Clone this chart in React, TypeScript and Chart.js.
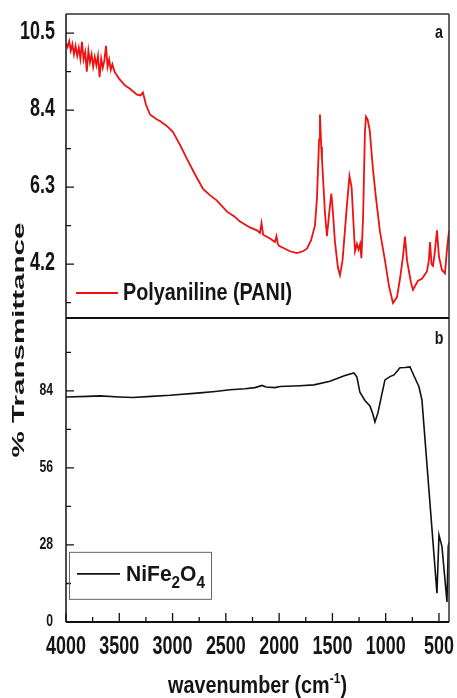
import React, { useEffect, useRef } from "react";
import { Chart, registerables } from "chart.js";

Chart.register(...registerables);

// ---------- DATA ----------
const paniWavenumber = [
  4000, 3985, 3970, 3955, 3940, 3925, 3910, 3895, 3880, 3865, 3850, 3835, 3820, 3805, 3790, 3775,
  3760, 3745, 3730, 3715, 3700, 3685, 3670, 3655, 3640, 3625, 3610, 3595, 3580, 3565, 3545, 3500,
  3450, 3400, 3334, 3300, 3278, 3250, 3212, 3150, 3118, 3052, 2996, 2930, 2865, 2790, 2714, 2650,
  2583, 2489, 2420, 2367, 2274, 2208, 2180, 2165, 2150, 2086, 2039, 2025, 2012, 2001, 1945, 1898,
  1833, 1776, 1739, 1700, 1664, 1645, 1625, 1617, 1605, 1598, 1570, 1551, 1530, 1510, 1495, 1476,
  1448, 1429, 1405, 1364, 1340, 1320, 1300, 1288, 1270, 1255, 1240, 1228, 1212, 1195, 1185, 1170,
  1150, 1120, 1091, 1054, 1007, 969, 932, 894, 866, 838, 819, 800, 763, 744, 697, 660,
  613, 595, 584, 570, 556, 540, 519, 500, 472, 444, 425, 406,
];
const paniTransmittance = [
  10.22, 10.12, 10.28, 10.02, 10.2, 9.92, 10.15, 9.88, 10.1, 9.8, 10.26, 9.78, 9.98, 9.45, 10.02, 9.7,
  9.92, 9.58, 9.85, 9.62, 9.88, 9.3, 9.8, 9.55, 9.75, 10.15, 9.58, 9.78, 9.5, 9.65, 9.45, 9.25,
  9.08, 8.98, 8.82, 8.8, 8.88, 8.55, 8.28, 8.15, 8.1, 7.96, 7.8, 7.45, 7.07, 6.65, 6.25, 6.08,
  5.93, 5.63, 5.5, 5.36, 5.2, 5.12, 5.05, 5.32, 5.0, 4.9, 4.8, 4.96, 4.75, 4.7, 4.62, 4.55,
  4.5, 4.55, 4.62, 4.85, 5.25, 6.0, 7.6, 8.28, 7.4, 7.07, 5.6, 4.96, 5.6, 6.12, 5.6, 4.8,
  4.1, 3.9, 4.3, 5.8, 6.6, 6.3, 5.2, 4.55, 4.75, 4.6, 4.75, 4.36, 5.5, 7.8, 8.22, 8.15,
  7.85, 6.8, 6.0, 5.09, 4.3, 3.6, 3.14, 3.3, 3.8, 4.4, 4.95, 4.3, 3.7, 3.5, 3.75, 3.8,
  4.0, 4.3, 4.8, 4.2, 4.15, 4.5, 5.12, 4.4, 4.04, 3.95, 4.6, 5.1,
];

const ferriteWavenumber = [
  4000, 3800, 3681, 3500, 3371, 3200, 3024, 2743, 2600, 2461, 2320, 2227, 2161, 2123, 2039, 1992,
  1804, 1673, 1523, 1382, 1298, 1270, 1242, 1195, 1148, 1120, 1101, 1073, 1035, 1007, 960, 922,
  866, 819, 772, 735, 688, 660, 519, 500, 472, 425, 413, 406,
];
const ferriteTransmittance = [
  81.8, 82.0, 82.2, 81.8, 81.6, 82.0, 82.4, 83.3, 83.8, 84.4, 84.8, 85.2, 86.0, 85.4, 85.2, 85.6,
  85.9, 86.2, 87.5, 89.6, 90.5, 89.0, 83.5, 80.5, 78.5, 75.5, 72.7, 76, 83, 88, 89.2, 89.8,
  92.4, 92.5, 92.7, 89.5, 85.5, 80.7, 10.5, 31.6, 27.4, 7.3, 27.4, 29,
];

const xMajorTicks = [4000, 3500, 3000, 2500, 2000, 1500, 1000, 500];
const xMinorTicks = [3750, 3250, 2750, 2250, 1750, 1250, 750];
const paniMajorTicks = [4.2, 6.3, 8.4, 10.5];
const paniMinorTicks = [3.15, 5.25, 7.35, 9.45];
const ferriteMajorTicks = [0, 28, 56, 84];
const ferriteMinorTicks = [14, 42, 70, 98];

const paniLabel = "Polyaniline (PANI)";
const yTitle = "% Transmittance";

// ---------- DRAW HELPERS ----------
const FAMILY = '"Liberation Sans", Arial, Helvetica, sans-serif';

function drawText(
  ctx: CanvasRenderingContext2D,
  text: string,
  x: number,
  y: number,
  size: number,
  sx: number,
  align: "left" | "center" | "right",
  weight = "bold"
) {
  ctx.save();
  ctx.font = `${weight} ${size}px ${FAMILY}`;
  ctx.textBaseline = "middle";
  ctx.textAlign = "left";
  const w = ctx.measureText(text).width * sx;
  const x0 = align === "left" ? x : align === "center" ? x - w / 2 : x - w;
  ctx.translate(x0, y);
  ctx.scale(sx, 1);
  ctx.fillText(text, 0, 0);
  ctx.restore();
  return w;
}

function fitText(
  ctx: CanvasRenderingContext2D,
  text: string,
  x: number,
  y: number,
  size: number,
  targetW: number,
  weight = "bold"
) {
  ctx.save();
  ctx.font = `${weight} ${size}px ${FAMILY}`;
  const w = ctx.measureText(text).width;
  ctx.restore();
  drawText(ctx, text, x, y, size, targetW / w, "left", weight);
}

const framePlugin = {
  id: "framePlugin",
  afterDraw(chart: any) {
    const ctx: CanvasRenderingContext2D = chart.ctx;
    const { left, right, top, bottom } = chart.chartArea;
    const xs = chart.scales.x;
    const ya = chart.scales.yPani;
    const yb = chart.scales.yFerrite;
    const mid = Math.round(ya.bottom);
    ctx.save();
    ctx.fillStyle = "#111";

    // frame
    ctx.lineWidth = 1.5;
    ctx.strokeStyle = "#333";
    ctx.beginPath();
    ctx.moveTo(left, top);
    ctx.lineTo(right, top);
    ctx.moveTo(right, top);
    ctx.lineTo(right, bottom);
    ctx.stroke();
    ctx.strokeStyle = "#111";
    ctx.beginPath();
    ctx.moveTo(left, top);
    ctx.lineTo(left, bottom);
    ctx.stroke();
    ctx.lineWidth = 2;
    ctx.beginPath();
    ctx.moveTo(left, mid);
    ctx.lineTo(right, mid);
    ctx.moveTo(left, bottom);
    ctx.lineTo(right, bottom);
    ctx.stroke();

    // x ticks (inward)
    ctx.lineWidth = 1.3;
    ctx.beginPath();
    xMajorTicks.forEach((v) => {
      const p = xs.getPixelForValue(v);
      ctx.moveTo(p, bottom);
      ctx.lineTo(p, bottom - 9);
    });
    xMinorTicks.forEach((v) => {
      const p = xs.getPixelForValue(v);
      ctx.moveTo(p, bottom);
      ctx.lineTo(p, bottom - 5);
    });
    // y ticks
    paniMajorTicks.forEach((v) => {
      const p = ya.getPixelForValue(v);
      ctx.moveTo(left, p);
      ctx.lineTo(left + 8, p);
    });
    paniMinorTicks.forEach((v) => {
      const p = ya.getPixelForValue(v);
      ctx.moveTo(left, p);
      ctx.lineTo(left + 5, p);
    });
    ferriteMajorTicks.forEach((v) => {
      const p = yb.getPixelForValue(v);
      ctx.moveTo(left, p);
      ctx.lineTo(left + 8, p);
    });
    ferriteMinorTicks.forEach((v) => {
      const p = yb.getPixelForValue(v);
      ctx.moveTo(left, p);
      ctx.lineTo(left + 5, p);
    });
    ctx.stroke();

    // tick labels
    ctx.fillStyle = "#151515";
    xMajorTicks.forEach((v) => {
      drawText(ctx, String(v), xs.getPixelForValue(v), bottom + 25, 26, 0.69, "center");
    });
    paniMajorTicks.forEach((v) => {
      drawText(ctx, v.toFixed(1), left - 11, ya.getPixelForValue(v) - 1, 26, 0.69, "right");
    });
    ferriteMajorTicks.forEach((v) => {
      drawText(ctx, String(v), left - 13, yb.getPixelForValue(v) - 1, 17, 0.72, "right");
    });

    // panel letters
    drawText(ctx, "a", right - 10, top + 19, 19, 0.75, "center");
    drawText(ctx, "b", right - 10, mid + 21, 19, 0.75, "center");

    // y title (rotated)
    ctx.save();
    ctx.font = `bold 26px ${FAMILY}`;
    const tw = ctx.measureText(yTitle).width;
    ctx.translate(19, (ya.top + yb.bottom) / 2 + 22);
    ctx.rotate(-Math.PI / 2);
    ctx.scale(235 / tw, 0.66);
    ctx.textAlign = "center";
    ctx.textBaseline = "middle";
    ctx.fillText(yTitle, 0, 0);
    ctx.restore();

    // x title with superscript
    {
      const size = 23;
      const supSize = 14;
      ctx.save();
      ctx.font = `bold ${size}px ${FAMILY}`;
      const w1 = ctx.measureText("wavenumber (cm").width;
      const w3 = ctx.measureText(")").width;
      ctx.font = `bold ${supSize}px ${FAMILY}`;
      const w2 = ctx.measureText("-1").width;
      ctx.restore();
      const target = 179;
      const sx = target / (w1 + w2 + w3);
      const cx = (left + right) / 2;
      let x0 = cx - target / 2;
      const y = 687;
      drawText(ctx, "wavenumber (cm", x0, y, size, sx, "left");
      x0 += w1 * sx;
      drawText(ctx, "-1", x0, y - 8, supSize, sx, "left");
      x0 += w2 * sx;
      drawText(ctx, ")", x0, y, size, sx, "left");
    }

    // legend a
    ctx.strokeStyle = "#ee1111";
    ctx.lineWidth = 2.2;
    ctx.beginPath();
    ctx.moveTo(left + 10, 293);
    ctx.lineTo(left + 52, 293);
    ctx.stroke();
    ctx.fillStyle = "#151515";
    fitText(ctx, paniLabel, left + 57, 293, 24, 169);

    // legend b (boxed)
    const bx = left + 3;
    const by = yb.getPixelForValue(25.5);
    const bw = 142;
    const bh = 47;
    ctx.strokeStyle = "#666";
    ctx.lineWidth = 1;
    ctx.strokeRect(bx + 0.5, by + 0.5, bw, bh);
    ctx.strokeStyle = "#111";
    ctx.lineWidth = 1.6;
    ctx.beginPath();
    ctx.moveTo(bx + 8, by + 22);
    ctx.lineTo(bx + 51, by + 22);
    ctx.stroke();
    {
      const parts: [string, boolean][] = [
        ["NiFe", false],
        ["2", true],
        ["O", false],
        ["4", true],
      ];
      const main = 22;
      const sub = 16;
      let total = 0;
      ctx.save();
      parts.forEach(([t, s]) => {
        ctx.font = `bold ${s ? sub : main}px ${FAMILY}`;
        total += ctx.measureText(t).width;
      });
      ctx.restore();
      const sx = 79 / total;
      let x0 = bx + 57;
      const ty = by + 23;
      parts.forEach(([t, s]) => {
        const w = drawText(ctx, t, x0, s ? ty + 9 : ty, s ? sub : main, sx, "left");
        x0 += w;
      });
    }
    ctx.restore();
  },
};

export default function App() {
  const ref = useRef<HTMLCanvasElement | null>(null);
  useEffect(() => {
    if (!ref.current) return;
    const paniData = paniWavenumber.map((w, i) => ({ x: w, y: paniTransmittance[i] }));
    const ferriteData = ferriteWavenumber.map((w, i) => ({ x: w, y: ferriteTransmittance[i] }));
    const hiddenY = (min: number, max: number) => ({
      type: "linear" as const,
      position: "left" as const,
      stack: "panels",
      stackWeight: 1,
      min,
      max,
      grid: { display: false, drawTicks: false },
      border: { display: false },
      ticks: { display: false },
      afterFit: (s: any) => {
        s.width = 66;
      },
    });
    const chart = new Chart(ref.current, {
      type: "line",
      data: {
        datasets: [
          {
            label: "NiFe2O4",
            data: ferriteData,
            yAxisID: "yFerrite",
            borderColor: "#111",
            borderWidth: 1.6,
            pointRadius: 0,
            tension: 0,
          },
          {
            label: paniLabel,
            data: paniData,
            yAxisID: "yPani",
            borderColor: "#ee1111",
            borderWidth: 1.8,
            pointRadius: 0,
            tension: 0,
          },
        ],
      },
      options: {
        animation: false,
        responsive: true,
        maintainAspectRatio: false,
        layout: { padding: { left: 0, top: 14, right: 8, bottom: 0 } },
        plugins: { legend: { display: false }, tooltip: { enabled: false } },
        scales: {
          x: {
            type: "linear",
            reverse: true,
            min: 406,
            max: 4000,
            grid: { display: false, drawTicks: false },
            border: { display: false },
            ticks: { display: false },
            afterFit: (s: any) => {
              s.height = 76;
            },
          },
          yFerrite: hiddenY(0, 110.5),
          yPani: hiddenY(2.73, 11.02),
        },
      },
      plugins: [framePlugin],
    });
    return () => chart.destroy();
  }, []);
  return (
    <div style={{ position: "absolute", left: 0, top: 0, width: 457, height: 698, background: "#fff" }}>
      <canvas ref={ref} />
    </div>
  );
}
